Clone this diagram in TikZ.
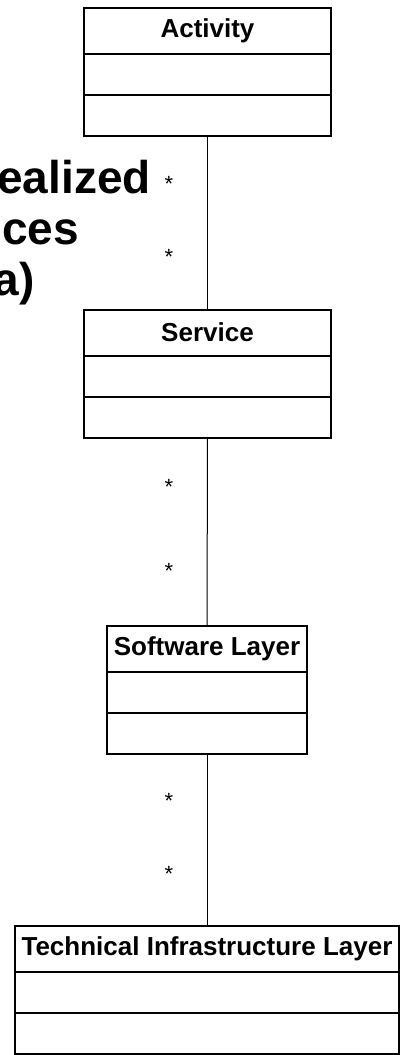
\documentclass[tikz,border=0pt]{standalone}
\usepackage{fontspec}
\setmainfont{Liberation Sans}
\begin{document}
\begin{tikzpicture}[x=1pt,y=1pt]

\tikzstyle{classbox} = [draw,line width=2pt,outer sep=0,inner sep=0,minimum height=41]
\tikzstyle{classhead} = [classbox,minimum height=46,font=\bfseries\fontsize{26}{30}\selectfont]
\tikzstyle{mult} = [inner sep=0,font=\fontsize{22}{26}\selectfont]
\tikzstyle{bigtext} = [inner sep=0,anchor=base east,font=\bfseries\fontsize{46}{54}\selectfont]

\useasboundingbox (0,0) rectangle (402,-1055);

\node [bigtext] (g1) at (151,-193) {ealized};
\node [bigtext] (g2) at (79,-244) {ces};
\node [bigtext] (g3) at (35,-295) {a)};

\node [classhead,minimum width=247] (a1) at (207.5,-31) {Activity};
\node [classbox,minimum width=247] (a2) at (207.5,-74.5) {};
\node [classbox,minimum width=247] (a3) at (207.5,-115.5) {};

\node [classhead,minimum width=247] (s1) at (207.5,-332.5) {Service};
\node [classbox,minimum width=247] (s2) at (207.5,-376) {};
\node [classbox,minimum width=247] (s3) at (207.5,-417) {};

\node [classhead,minimum width=200] (w1) at (207,-648.5) {Software Layer};
\node [classbox,minimum width=200] (w2) at (207,-692) {};
\node [classbox,minimum width=200] (w3) at (207,-733) {};

\node [classhead,minimum width=384] (t1) at (207,-949) {Technical Infrastructure Layer};
\node [classbox,minimum width=384] (t2) at (207,-992.5) {};
\node [classbox,minimum width=384] (t3) at (207,-1033) {};

\node [mult] (m1) at (169,-184) {*};
\node [mult] (m2) at (169,-257) {*};
\node [mult] (m3) at (169,-487) {*};
\node [mult] (m4) at (169,-571) {*};
\node [mult] (m5) at (169,-801) {*};
\node [mult] (m6) at (169,-874) {*};

\draw [line width=1pt] (a3) edge (s1);
\draw [line width=1pt] (s3) edge (w1);
\draw [line width=1pt] (w3) edge (t1);
\end{tikzpicture}
\end{document}
